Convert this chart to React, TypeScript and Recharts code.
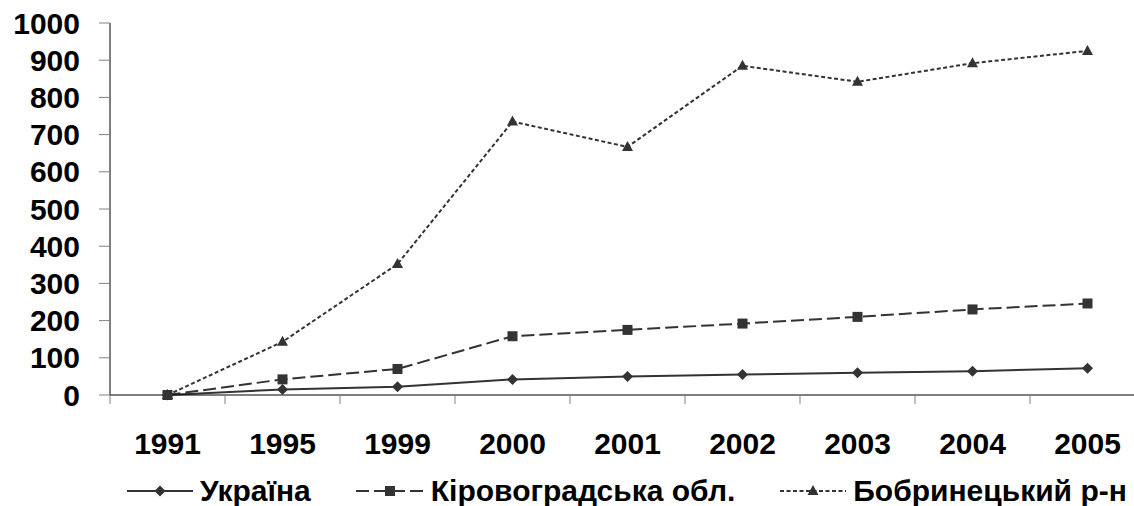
import React from 'react';
import { LineChart, Line, XAxis, YAxis, Legend } from 'recharts';

const years = ['1991', '1995', '1999', '2000', '2001', '2002', '2003', '2004', '2005'];
const ukraine = [0, 15, 22, 42, 50, 55, 60, 64, 72];
const kirovohrad = [0, 42, 70, 158, 175, 192, 210, 230, 246];
const bobrynets = [0, 143, 352, 735, 667, 885, 842, 892, 925];
const yTicks = [0, 100, 200, 300, 400, 500, 600, 700, 800, 900, 1000];

const seriesNames = ['Україна', 'Кіровоградська обл.', 'Бобринецький р-н'];

const data = years.map((y, i) => ({
	year: y,
	ukraine: ukraine[i],
	kirovohrad: kirovohrad[i],
	bobrynets: bobrynets[i],
}));

const W = 1134;
const H = 506;
const Y_AXIS_W = 110;
const PAD_L = 57.5;
const PAD_R = 46.5;
const STEP = (W - Y_AXIS_W - PAD_L - PAD_R) / (years.length - 1);
const HALF = STEP / 2;

const INK = '#333333';
const FONT = '"Liberation Sans", Arial, sans-serif';

const Marker = ({ shape, cx, cy }: { shape: string; cx: number; cy: number }) => {
	if (shape === 'diamond') {
		const r = 5.5;
		return <polygon points={`${cx},${cy - r} ${cx + r},${cy} ${cx},${cy + r} ${cx - r},${cy}`} fill={INK} />;
	}
	if (shape === 'square') {
		return <rect x={cx - 5} y={cy - 5} width={10} height={10} fill={INK} />;
	}
	return <polygon points={`${cx},${cy - 6} ${cx + 5.5},${cy + 4} ${cx - 5.5},${cy + 4}`} fill={INK} />;
};

const renderDot = (shape: string) => (props: any) => {
	const { cx, cy, index } = props;
	if (cx == null || cy == null) return <g key={`d-${shape}-${index}`} />;
	return (
		<g key={`d-${shape}-${index}`}>
			<Marker shape={shape} cx={cx} cy={cy} />
		</g>
	);
};

const XTick = (props: any) => {
	const { x, y, payload } = props;
	return (
		<g>
			<line x1={x - HALF} y1={y} x2={x - HALF} y2={y + 9} stroke="#808080" strokeWidth={1} />
			<text x={x} y={y + 59} textAnchor="middle" fill="#000" fontSize={30} fontWeight="bold" fontFamily={FONT}>
				{payload.value}
			</text>
		</g>
	);
};

const legendItems = [
	{ name: seriesNames[0], shape: 'diamond', dash: undefined, w: 66 },
	{ name: seriesNames[1], shape: 'square', dash: '13 5', w: 68 },
	{ name: seriesNames[2], shape: 'triangle', dash: '4 2.5', w: 66 },
];

const LegendContent = () => (
	<div style={{ display: 'flex', alignItems: 'center', fontFamily: FONT, fontWeight: 'bold', fontSize: 30, color: '#000', whiteSpace: 'nowrap' }}>
		{legendItems.map((it, i) => (
			<div key={it.name} style={{ display: 'flex', alignItems: 'center', marginRight: i < 2 ? 45 : 0 }}>
				<svg width={it.w} height={20} style={{ marginRight: 7 }}>
					<line x1={0} y1={10} x2={it.w} y2={10} stroke={INK} strokeWidth={2} strokeDasharray={it.dash} />
					<Marker shape={it.shape} cx={it.w / 2} cy={10} />
				</svg>
				<span style={{ lineHeight: '32px' }}>{it.name}</span>
			</div>
		))}
	</div>
);

export default function App() {
	return (
		<div style={{ position: 'absolute', left: 0, top: 0, width: W, height: H, overflow: 'hidden', background: '#fff' }}>
			<LineChart width={W} height={H} data={data} margin={{ top: 23, right: 0, left: 0, bottom: 0 }}>
				<XAxis
					dataKey="year"
					scale="point"
					padding={{ left: PAD_L, right: PAD_R }}
					height={81}
					axisLine={{ stroke: '#000', strokeWidth: 1 }}
					tickLine={false}
					tickSize={0}
					tickMargin={0}
					interval={0}
					tick={<XTick />}
				/>
				<YAxis
					width={Y_AXIS_W}
					domain={[0, 1000]}
					ticks={yTicks}
					interval={0}
					axisLine={{ stroke: '#000', strokeWidth: 1 }}
					tickLine={{ stroke: '#808080' }}
					tickSize={11}
					tickMargin={19}
					tick={{ fill: '#000', fontSize: 30, fontWeight: 'bold', fontFamily: FONT }}
				/>
				<Legend
					verticalAlign="bottom"
					height={30}
					content={<LegendContent />}
					wrapperStyle={{ left: 127, top: 475, width: 'auto' }}
				/>
				<Line
					dataKey="ukraine"
					name={seriesNames[0]}
					type="linear"
					stroke={INK}
					strokeWidth={2}
					dot={renderDot('diamond')}
					activeDot={false}
					isAnimationActive={false}
				/>
				<Line
					dataKey="kirovohrad"
					name={seriesNames[1]}
					type="linear"
					stroke={INK}
					strokeWidth={2}
					strokeDasharray="13 5"
					dot={renderDot('square')}
					activeDot={false}
					isAnimationActive={false}
				/>
				<Line
					dataKey="bobrynets"
					name={seriesNames[2]}
					type="linear"
					stroke={INK}
					strokeWidth={2}
					strokeDasharray="4 2.5"
					dot={renderDot('triangle')}
					activeDot={false}
					isAnimationActive={false}
				/>
			</LineChart>
		</div>
	);
}
